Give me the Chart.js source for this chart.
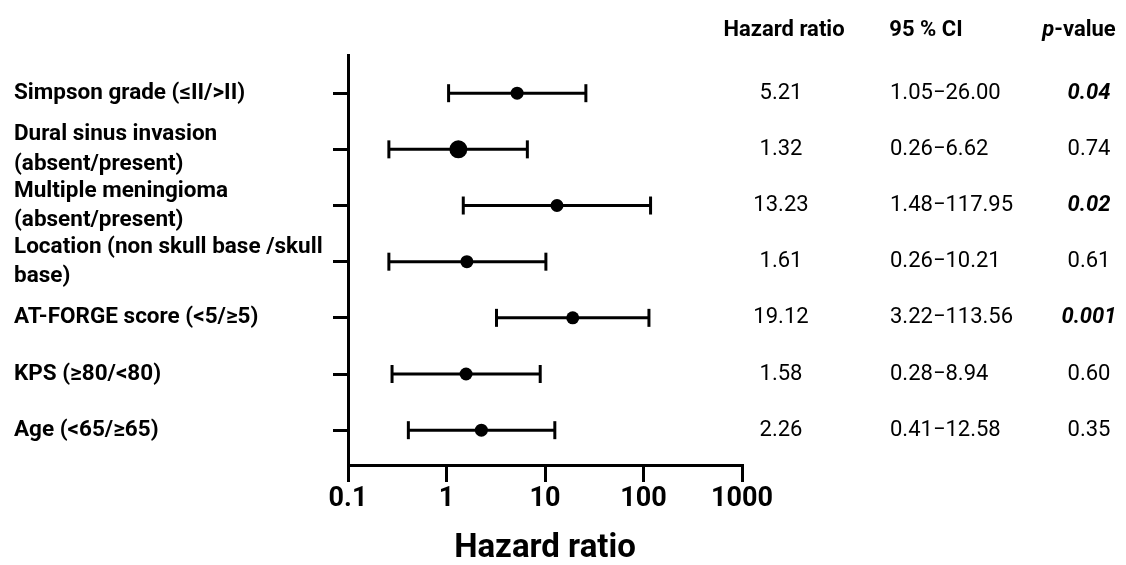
<!DOCTYPE html>
<html>
<head>
<meta charset="utf-8">
<script src="https://cdn.jsdelivr.net/npm/chart.js@4.4.0/dist/chart.umd.min.js"></script>
<style>
  html, body { margin: 0; padding: 0; background: #fff; }
  #wrap { width: 1126px; height: 565px; }
</style>
</head>
<body>
<div id="wrap"><canvas id="forest-canvas"></canvas></div>
<script>
const factors = [
  'Simpson grade (≤II/>II)',
  ['Dural sinus invasion', '(absent/present)'],
  ['Multiple meningioma', '(absent/present)'],
  ['Location (non skull base /skull', 'base)'],
  'AT-FORGE score (<5/≥5)',
  'KPS (≥80/<80)',
  'Age (<65/≥65)'
];
const hazardRatio = [5.21, 1.32, 13.23, 1.61, 19.12, 1.58, 2.26];
const ciLower = [1.05, 0.26, 1.48, 0.26, 3.22, 0.28, 0.41];
const ciUpper = [26.00, 6.62, 117.95, 10.21, 113.56, 8.94, 12.58];
const pValues = ['0.04', '0.74', '0.02', '0.61', '0.001', '0.60', '0.35'];
const xTicks = [0.1, 1, 10, 100, 1000];

Chart.defaults.font.family = 'Roboto';
Chart.defaults.color = '#000';

// right-hand table: HR, CI, p-value
const tablePlugin = {
  id: 'hrTable',
  afterDraw(chart) {
    const ctx = chart.ctx;
    const y = chart.scales.y;
    ctx.save();
    ctx.fillStyle = '#000';
    ctx.textBaseline = 'middle';

    ctx.font = 'bold 22px Roboto';
    ctx.textAlign = 'center';
    ctx.fillText('Hazard ratio', 784, 30);
    ctx.fillText('95 % CI', 926, 30);
    // "p-value" with italic p
    ctx.textAlign = 'left';
    ctx.font = 'italic bold 22px Roboto';
    const pw = ctx.measureText('p').width;
    ctx.font = 'bold 22px Roboto';
    const vw = ctx.measureText('-value').width;
    const px0 = 1079 - (pw + vw) / 2;
    ctx.font = 'italic bold 22px Roboto';
    ctx.fillText('p', px0, 30);
    ctx.font = 'bold 22px Roboto';
    ctx.fillText('-value', px0 + pw, 30);

    hazardRatio.forEach((hr, i) => {
      const py = y.getPixelForValue(i + 1);
      ctx.font = '22px Roboto';
      ctx.textAlign = 'center';
      ctx.fillText(hr.toFixed(2), 781, py);
      ctx.textAlign = 'left';
      ctx.fillText(ciLower[i].toFixed(2) + '\u2212' + ciUpper[i].toFixed(2), 890, py);
      ctx.textAlign = 'center';
      ctx.font = (parseFloat(pValues[i]) < 0.05 ? 'italic bold ' : '') + '22px Roboto';
      ctx.fillText(pValues[i], 1089, py);
    });
    ctx.restore();
  }
};

const dots = {
  label: 'Hazard ratio',
  data: hazardRatio.map((v, i) => ({ x: v, y: i + 1 })),
  pointStyle: 'circle',
  pointRadius: c => (c.dataIndex === 1 ? 9 : 6.5),
  backgroundColor: '#000',
  borderColor: '#000',
  borderWidth: 0
};

const whiskers = hazardRatio.map((v, i) => ({
  label: 'CI ' + (i + 1),
  data: [{ x: ciLower[i], y: i + 1 }, { x: ciUpper[i], y: i + 1 }],
  showLine: true,
  borderColor: '#000',
  borderWidth: 3,
  pointStyle: 'line',
  rotation: 90,
  pointRadius: 9,
  pointBorderWidth: 3,
  pointBorderColor: '#000'
}));

const forestChart = new Chart(document.getElementById('forest-canvas'), {
  type: 'scatter',
  data: { datasets: [dots, ...whiskers] },
  plugins: [tablePlugin],
  options: {
    responsive: true,
    maintainAspectRatio: false,
    animation: false,
    layout: { padding: { top: 55, right: 384, left: 14, bottom: 0 } },
    plugins: { legend: { display: false }, tooltip: { enabled: false } },
    scales: {
      x: {
        type: 'logarithmic',
        min: 0.1,
        max: 1000,
        afterBuildTicks: s => { s.ticks = xTicks.map(v => ({ value: v })); },
        afterFit: s => { s.height = 100; },
        border: { display: true, color: '#000', width: 3 },
        grid: { drawOnChartArea: false, drawTicks: true, tickLength: 17, color: '#000', lineWidth: 3 },
        ticks: {
          autoSkip: false,
          maxRotation: 0,
          padding: 1,
          font: { size: 27, weight: 'bold' },
          callback: v => String(v)
        },
        title: {
          display: true,
          text: 'Hazard ratio',
          font: { size: 33, weight: 'bold', lineHeight: 1.0 },
          padding: 0
        }
      },
      y: {
        type: 'linear',
        reverse: true,
        min: 0.32,
        max: 7.62,
        afterBuildTicks: s => { s.ticks = factors.map((f, i) => ({ value: i + 1 })); },
        afterFit: s => { s.width = 334; },
        border: { display: true, color: '#000', width: 3 },
        grid: { drawOnChartArea: false, drawTicks: true, tickLength: 15, color: '#000', lineWidth: 3 },
        ticks: {
          autoSkip: false,
          crossAlign: 'far',
          font: { size: 22.5, weight: 'bold', lineHeight: 1.3 },
          callback: v => factors[v - 1]
        }
      }
    }
  }
});
</script>
</body>
</html>
